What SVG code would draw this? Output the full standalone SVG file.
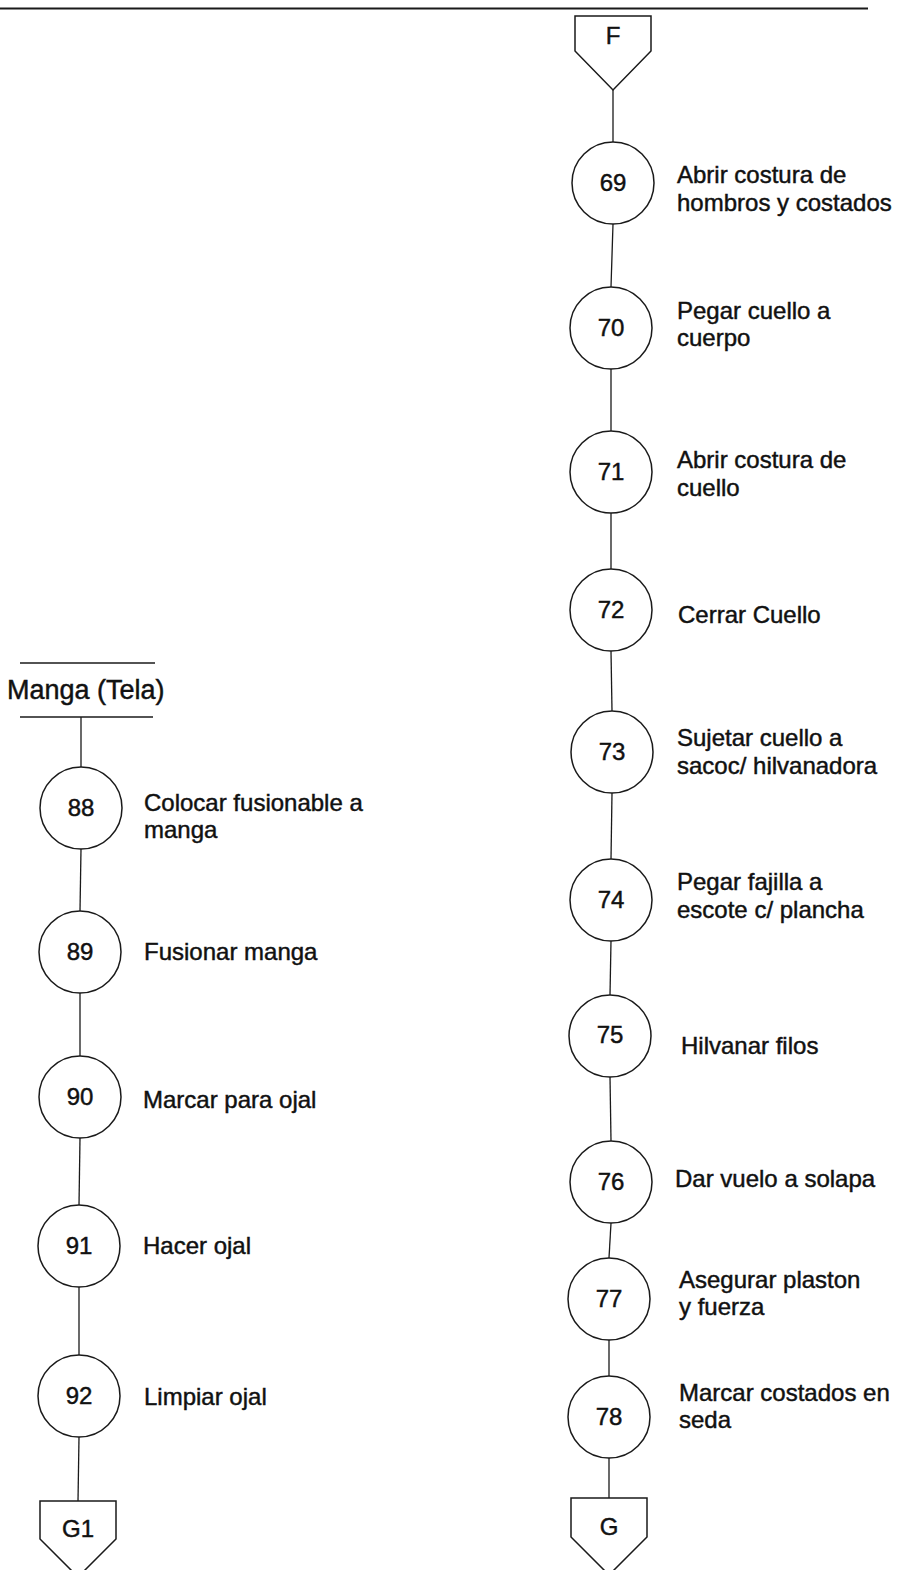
<svg xmlns="http://www.w3.org/2000/svg" width="899" height="1570" viewBox="0 0 899 1570">
  <style>
    .op { fill: #ffffff; stroke: #1a1a1a; stroke-width: 1.5; }
    .off { fill: #ffffff; stroke: #1a1a1a; stroke-width: 1.5; stroke-linejoin: miter; }
    .num { font-family: "Liberation Sans", Arial, sans-serif; font-size: 24px; fill: #111; stroke: #111; stroke-width: 0.45; text-anchor: middle; }
    .lbl { font-family: "Liberation Sans", Arial, sans-serif; font-size: 24px; fill: #111; stroke: #111; stroke-width: 0.45; }
    .hdr { font-family: "Liberation Sans", Arial, sans-serif; font-size: 27px; fill: #111; stroke: #111; stroke-width: 0.45; }
    .rule { stroke: #1a1a1a; stroke-width: 1.5; fill: none; }
    .edge { stroke: #1a1a1a; stroke-width: 1.3; fill: none; }
  </style>

  <rect width="899" height="1570" fill="#ffffff"/>

  <!-- page rule at the top -->
  <line x1="0" y1="8.5" x2="868" y2="8.5" stroke="#1a1a1a" stroke-width="2.2"/>

  <!-- connectors -->
  <g id="connectors">
    <line class="edge" x1="613" y1="90" x2="613" y2="142"/>
    <line class="edge" x1="613" y1="224" x2="611" y2="287"/>
    <line class="edge" x1="611" y1="369" x2="611" y2="431"/>
    <line class="edge" x1="611" y1="513" x2="611" y2="569"/>
    <line class="edge" x1="611" y1="651" x2="612" y2="711"/>
    <line class="edge" x1="612" y1="793" x2="611" y2="859"/>
    <line class="edge" x1="611" y1="941" x2="610" y2="995"/>
    <line class="edge" x1="610" y1="1077" x2="611" y2="1141"/>
    <line class="edge" x1="611" y1="1223" x2="609" y2="1258"/>
    <line class="edge" x1="609" y1="1340" x2="609" y2="1376"/>
    <line class="edge" x1="609" y1="1458" x2="609" y2="1498"/>

    <line class="edge" x1="81" y1="717" x2="81" y2="767"/>
    <line class="edge" x1="81" y1="849" x2="80" y2="911"/>
    <line class="edge" x1="80" y1="993" x2="80" y2="1056"/>
    <line class="edge" x1="80" y1="1138" x2="79" y2="1205"/>
    <line class="edge" x1="79" y1="1287" x2="79" y2="1355"/>
    <line class="edge" x1="79" y1="1437" x2="78" y2="1501"/>
  </g>

  <!-- off-page connector F -->
  <g id="conn-F">
    <polygon class="off" points="575,16 651,16 651,51 613,90 575,51"/>
    <text class="num" x="613" y="44">F</text>
  </g>

  <!-- right column operations -->
  <g id="op-69">
    <circle class="op" cx="613" cy="183" r="41"/>
    <text class="num" x="613" y="191">69</text>
    <text class="lbl" x="677" y="183">Abrir costura de</text>
    <text class="lbl" x="677" y="211">hombros y costados</text>
  </g>
  <g id="op-70">
    <circle class="op" cx="611" cy="328" r="41"/>
    <text class="num" x="611" y="336">70</text>
    <text class="lbl" x="677" y="319">Pegar cuello a</text>
    <text class="lbl" x="677" y="346">cuerpo</text>
  </g>
  <g id="op-71">
    <circle class="op" cx="611" cy="472" r="41"/>
    <text class="num" x="611" y="480">71</text>
    <text class="lbl" x="677" y="468">Abrir costura de</text>
    <text class="lbl" x="677" y="496">cuello</text>
  </g>
  <g id="op-72">
    <circle class="op" cx="611" cy="610" r="41"/>
    <text class="num" x="611" y="618">72</text>
    <text class="lbl" x="678" y="623">Cerrar Cuello</text>
  </g>
  <g id="op-73">
    <circle class="op" cx="612" cy="752" r="41"/>
    <text class="num" x="612" y="760">73</text>
    <text class="lbl" x="677" y="746">Sujetar cuello a</text>
    <text class="lbl" x="677" y="774">sacoc/ hilvanadora</text>
  </g>
  <g id="op-74">
    <circle class="op" cx="611" cy="900" r="41"/>
    <text class="num" x="611" y="908">74</text>
    <text class="lbl" x="677" y="890">Pegar fajilla a</text>
    <text class="lbl" x="677" y="918">escote c/ plancha</text>
  </g>
  <g id="op-75">
    <circle class="op" cx="610" cy="1036" r="41"/>
    <text class="num" x="610" y="1043">75</text>
    <text class="lbl" x="681" y="1054">Hilvanar filos</text>
  </g>
  <g id="op-76">
    <circle class="op" cx="611" cy="1182" r="41"/>
    <text class="num" x="611" y="1190">76</text>
    <text class="lbl" x="675" y="1187">Dar vuelo a solapa</text>
  </g>
  <g id="op-77">
    <circle class="op" cx="609" cy="1299" r="41"/>
    <text class="num" x="609" y="1307">77</text>
    <text class="lbl" x="679" y="1288">Asegurar plaston</text>
    <text class="lbl" x="679" y="1315">y fuerza</text>
  </g>
  <g id="op-78">
    <circle class="op" cx="609" cy="1417" r="41"/>
    <text class="num" x="609" y="1425">78</text>
    <text class="lbl" x="679" y="1401">Marcar costados en</text>
    <text class="lbl" x="679" y="1428">seda</text>
  </g>

  <!-- off-page connector G -->
  <g id="conn-G">
    <polygon class="off" points="571,1498 647,1498 647,1537 609,1575 571,1537"/>
    <text class="num" x="609" y="1535">G</text>
  </g>

  <!-- left column: sleeve branch -->
  <g id="start-manga">
    <line class="rule" x1="20" y1="663" x2="155" y2="663"/>
    <text class="hdr" x="7" y="699">Manga (Tela)</text>
    <line class="rule" x1="20" y1="717" x2="153" y2="717"/>
  </g>
  <g id="op-88">
    <circle class="op" cx="81" cy="808" r="41"/>
    <text class="num" x="81" y="816">88</text>
    <text class="lbl" x="144" y="811">Colocar fusionable a</text>
    <text class="lbl" x="144" y="838">manga</text>
  </g>
  <g id="op-89">
    <circle class="op" cx="80" cy="952" r="41"/>
    <text class="num" x="80" y="960">89</text>
    <text class="lbl" x="144" y="960">Fusionar manga</text>
  </g>
  <g id="op-90">
    <circle class="op" cx="80" cy="1097" r="41"/>
    <text class="num" x="80" y="1105">90</text>
    <text class="lbl" x="143" y="1108">Marcar para ojal</text>
  </g>
  <g id="op-91">
    <circle class="op" cx="79" cy="1246" r="41"/>
    <text class="num" x="79" y="1254">91</text>
    <text class="lbl" x="143" y="1254">Hacer ojal</text>
  </g>
  <g id="op-92">
    <circle class="op" cx="79" cy="1396" r="41"/>
    <text class="num" x="79" y="1404">92</text>
    <text class="lbl" x="144" y="1405">Limpiar ojal</text>
  </g>

  <!-- off-page connector G1 -->
  <g id="conn-G1">
    <polygon class="off" points="40,1501 116,1501 116,1539 78,1577 40,1539"/>
    <text class="num" x="78" y="1537">G1</text>
  </g>
</svg>
